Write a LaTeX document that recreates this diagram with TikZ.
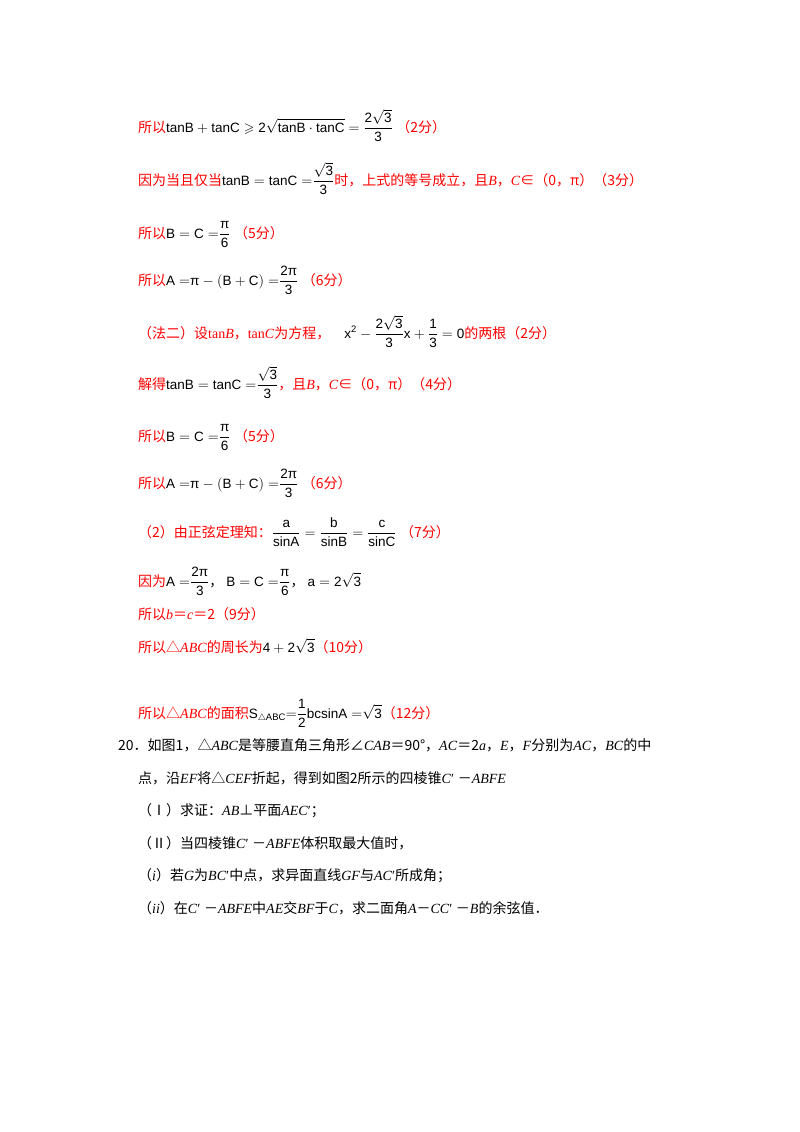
\documentclass[tikz,border=0pt]{standalone}
\usepackage{amsmath,amssymb}
\usepackage{fontspec}
\setmainfont{Liberation Serif}
\setsansfont{Liberation Sans}
\newfontfamily\zhf{Noto Sans CJK SC}
\newcommand\zh[1]{{\zhf #1}}
\newcommand\F[1]{\textcolor{black}{\fontsize{13.5}{15}\selectfont$\displaystyle #1$}}
\newcommand\s[1]{\mathsf{#1}}
\newcommand\myPi{\textsf{π}}
\definecolor{ans}{RGB}{255,0,0}
\begin{document}
\begin{tikzpicture}[x=1pt,y=-1pt,
  ln/.style={anchor=base west,inner sep=0pt,text=ans,font=\fontsize{14}{16}\selectfont},
  bl/.style={anchor=base west,inner sep=0pt,text=black,font=\fontsize{14}{16}\selectfont}]
\fill[white] (0,0) rectangle (800,1132);
\useasboundingbox (0,0) rectangle (800,1132);
\node[ln] (l1) at (138,132) {\zh{所以}\F{\s{tanB+tanC}\geqslant \s{2}\sqrt{\s{tanB}\cdot\s{tanC}}=\frac{\s{2}\sqrt{\s{3}}}{\s{3}}}\ \zh{（2分）}};
\node[ln] (l2) at (138,185) {\zh{因为当且仅当}\F{\s{tanB=tanC=}\frac{\sqrt{\s{3}}}{\s{3}}}\zh{时，上式的等号成立，且}\textit{B}\zh{，}\textit{C}\zh{∈（0，π）（3分）}};
\node[ln] (l3) at (138,238) {\zh{所以}\F{\s{B=C=}\frac{\myPi}{\s{6}}}\ \zh{（5分）}};
\node[ln] (l4) at (138,285) {\zh{所以}\F{\s{A=}\myPi-\s{(B+C)=}\frac{\s{2}\myPi}{\s{3}}}\ \zh{（6分）}};
\node[ln] (l5) at (138,338) {\zh{（法二）设}tan\textit{B}\zh{，}tan\textit{C}\zh{为方程，}\quad\F{\s{x}^{\s{2}}-\frac{\s{2}\sqrt{\s{3}}}{\s{3}}\s{x}+\frac{\s{1}}{\s{3}}=\s{0}}\zh{的两根（2分）}};
\node[ln] (l6) at (138,389) {\zh{解得}\F{\s{tanB=tanC=}\frac{\sqrt{\s{3}}}{\s{3}}}\zh{，且}\textit{B}\zh{，}\textit{C}\zh{∈（0，π）（4分）}};
\node[ln] (l7) at (138,441) {\zh{所以}\F{\s{B=C=}\frac{\myPi}{\s{6}}}\ \zh{（5分）}};
\node[ln] (l8) at (138,488) {\zh{所以}\F{\s{A=}\myPi-\s{(B+C)=}\frac{\s{2}\myPi}{\s{3}}}\ \zh{（6分）}};
\node[ln] (l9) at (138,537) {\zh{（2）由正弦定理知：}\F{\frac{\s{a}}{\s{sinA}}=\frac{\s{b}}{\s{sinB}}=\frac{\s{c}}{\s{sinC}}}\ \zh{（7分）}};
\node[ln] (l10) at (138,586) {\zh{因为}\F{\s{A=}\frac{\s{2}\myPi}{\s{3}}\textrm{\zh{，}}\ \s{B=C=}\frac{\myPi}{\s{6}}\textrm{\zh{，}}\ \s{a=2}\sqrt{\s{3}}}};
\node[ln] (l11) at (138,619) {\zh{所以}\textit{b}\zh{＝}\textit{c}\zh{＝2（9分）}};
\node[ln] (l12) at (138,652) {\zh{所以△}\textit{ABC}\zh{的周长为}\F{\s{4+2}\sqrt{\s{3}}}\zh{（10分）}};
\node[ln] (l13) at (138,718) {\zh{所以△}\textit{ABC}\zh{的面积}\F{\s{S}_{\triangle\s{ABC}}\s{=}\frac{\s{1}}{\s{2}}\s{bcsinA=}\sqrt{\s{3}}}\zh{（12分）}};
\node[bl] (q1) at (118,750) {\zh{20．如图1，△}\textit{ABC}\zh{是等腰直角三角形∠}\textit{CAB}\zh{＝90°，}\textit{AC}\zh{＝2}\textit{a}\zh{，}\textit{E}\zh{，}\textit{F}\zh{分别为}\textit{AC}\zh{，}\textit{BC}\zh{的中}};
\node[bl] (q2) at (138,783) {\zh{点，沿}\textit{EF}\zh{将△}\textit{CEF}\zh{折起，得到如图2所示的四棱锥}\textit{C}′\ \zh{－}\textit{ABFE}};
\node[bl] (q3) at (138,815) {\zh{（Ⅰ）求证：}\textit{AB}\zh{⊥平面}\textit{AEC}′\zh{；}};
\node[bl] (q4) at (138,848) {\zh{（Ⅱ）当四棱锥}\textit{C}′\ \zh{－}\textit{ABFE}\zh{体积取最大值时，}};
\node[bl] (q5) at (138,880) {\zh{（}\textit{i}\zh{）若}\textit{G}\zh{为}\textit{BC}′\zh{中点，求异面直线}\textit{GF}\zh{与}\textit{AC}′\zh{所成角；}};
\node[bl] (q6) at (138,913) {\zh{（}\textit{ii}\zh{）在}\textit{C}′\ \zh{－}\textit{ABFE}\zh{中}\textit{AE}\zh{交}\textit{BF}\zh{于}\textit{C}\zh{，求二面角}\textit{A}\zh{－}\textit{CC}′\ \zh{－}\textit{B}\zh{的余弦值．}};
\end{tikzpicture}
\end{document}
